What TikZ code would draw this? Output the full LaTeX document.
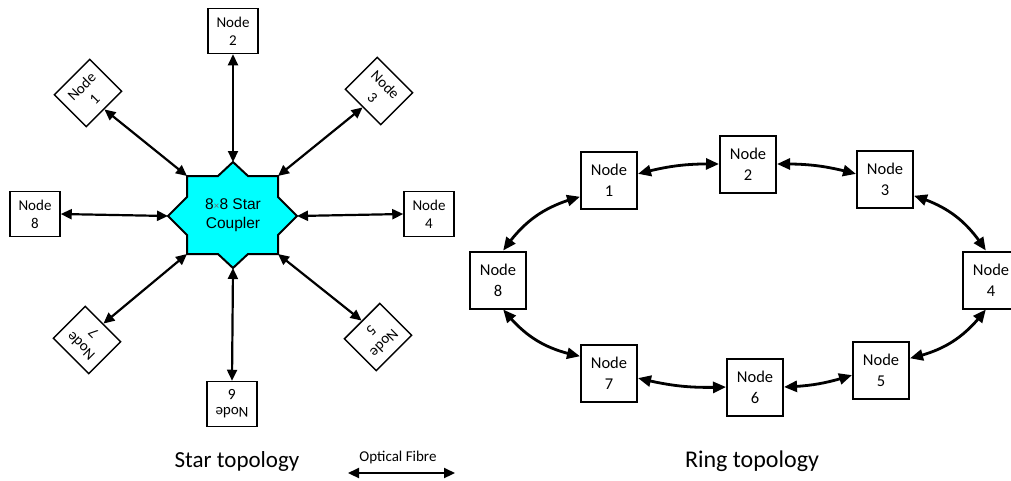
\documentclass[tikz,border=0pt]{standalone}
\usepackage{fontspec}
\setmainfont{Carlito}
\newfontfamily\arialf{Liberation Sans}
\usetikzlibrary{arrows.meta,bending}
\definecolor{coupler}{RGB}{0,255,255}
\definecolor{timesgray}{RGB}{110,110,110}
\begin{document}
\begin{tikzpicture}[x=1pt,y=-1pt,
  fibre/.style={line width=2.2pt,{Triangle[length=11pt,width=10pt]}-{Triangle[length=11pt,width=10pt]}},
  rfibre/.style={line width=2.8pt,{Triangle[length=13pt,width=11pt]}-{Triangle[length=13pt,width=11pt]}},
  snode/.style={draw,line width=1.5pt,fill=white,minimum width=50pt,minimum height=45pt,inner sep=0pt,align=center,font=\fontsize{15}{18}\selectfont},
  rnode/.style={draw,line width=2pt,fill=white,minimum width=56pt,minimum height=57pt,inner sep=0pt,align=center,font=\fontsize{16.5}{21}\selectfont},
  title/.style={font=\fontsize{23}{26}\selectfont,inner sep=0pt},
]
\useasboundingbox (0,0) rectangle (1011,480);

% ---------- star coupler ----------
\coordinate (cT) at (233,162);
\coordinate (cUR) at (278,176);
\coordinate (cR) at (297,216);
\coordinate (cLR) at (278,254);
\coordinate (cB) at (233,268);
\coordinate (cLL) at (187,254);
\coordinate (cL) at (168,216);
\coordinate (cUL) at (187,176);
\filldraw[fill=coupler,line width=2pt,line join=miter]
  (cT) -- (248,176) -- (cUR) -- (278,197) -- (cR) -- (278,235) -- (cLR)
  -- (248,254) -- (cB) -- (218,254) -- (cLL) -- (187,235) -- (cL)
  -- (187,197) -- (cUL) -- (218,176) -- cycle;
\node[align=center,inner sep=0pt,font=\arialf\fontsize{15.5}{19}\selectfont] (cc) at (233,215)
  {8{\color{timesgray}\fontsize{10}{10}\selectfont\char"00D7}8 Star\\Coupler};

% ---------- star nodes ----------
\node[snode,rotate=45]   (s1) at (88,93)   {Node\\1};
\node[snode]             (s2) at (233,31)  {Node\\2};
\node[snode,rotate=-45]  (s3) at (379,91)  {Node\\3};
\node[snode]             (s4) at (429,214) {Node\\4};
\node[snode,rotate=-135] (s5) at (378,337) {Node\\5};
\node[snode,rotate=180]  (s6) at (232,404) {Node\\6};
\node[snode,rotate=135]  (s7) at (87,340)  {Node\\7};
\node[snode]             (s8) at (35,214)  {Node\\8};

\draw[fibre] (s1.south) -- (cUL);
\draw[fibre] (s2.south) -- (cT);
\draw[fibre] (s3.south) -- (cUR);
\draw[fibre] (s4.west)  -- (cR);
\draw[fibre] (s5.south) -- (cLR);
\draw[fibre] (s6.south) -- (cB);
\draw[fibre] (s7.south) -- (cLL);
\draw[fibre] (s8.east)  -- (cL);

\node[title] (st) at (237,461) {Star topology};

% ---------- legend ----------
\coordinate (la) at (348,473);
\coordinate (lb) at (455,473);
\draw[fibre] (la) -- (lb);
\node[inner sep=0pt,font=\fontsize{15}{18}\selectfont] (lt) at (398,457) {Optical Fibre};

% ---------- ring ----------
\node[rnode] (r1) at (609,180) {Node\\1};
\node[rnode] (r2) at (748,164) {Node\\2};
\node[rnode] (r3) at (885,179) {Node\\3};
\node[rnode] (r4) at (991,280) {Node\\4};
\node[rnode] (r5) at (881,370) {Node\\5};
\node[rnode] (r6) at (755,387) {Node\\6};
\node[rnode] (r7) at (609,373) {Node\\7};
\node[rnode] (r8) at (498,280) {Node\\8};

\draw[rfibre] (r1.12) to[bend left=8] (r2.west);
\draw[rfibre] (r2.east) to[bend left=8] (r3.170);
\draw[rfibre] (r3.-30) to[bend left=20] (r4.100);
\draw[rfibre] (r4.-100) to[bend left=20] (r5.22);
\draw[rfibre] (r5.190) to[bend left=8] (r6.east);
\draw[rfibre] (r6.west) to[bend left=8] (r7.-10);
\draw[rfibre] (r7.150) to[bend left=20] (r8.-80);
\draw[rfibre] (r8.80) to[bend left=20] (r1.210);

\node[title,font=\fontsize{24}{27}\selectfont] (rt) at (752,461) {Ring topology};
\end{tikzpicture}
\end{document}
